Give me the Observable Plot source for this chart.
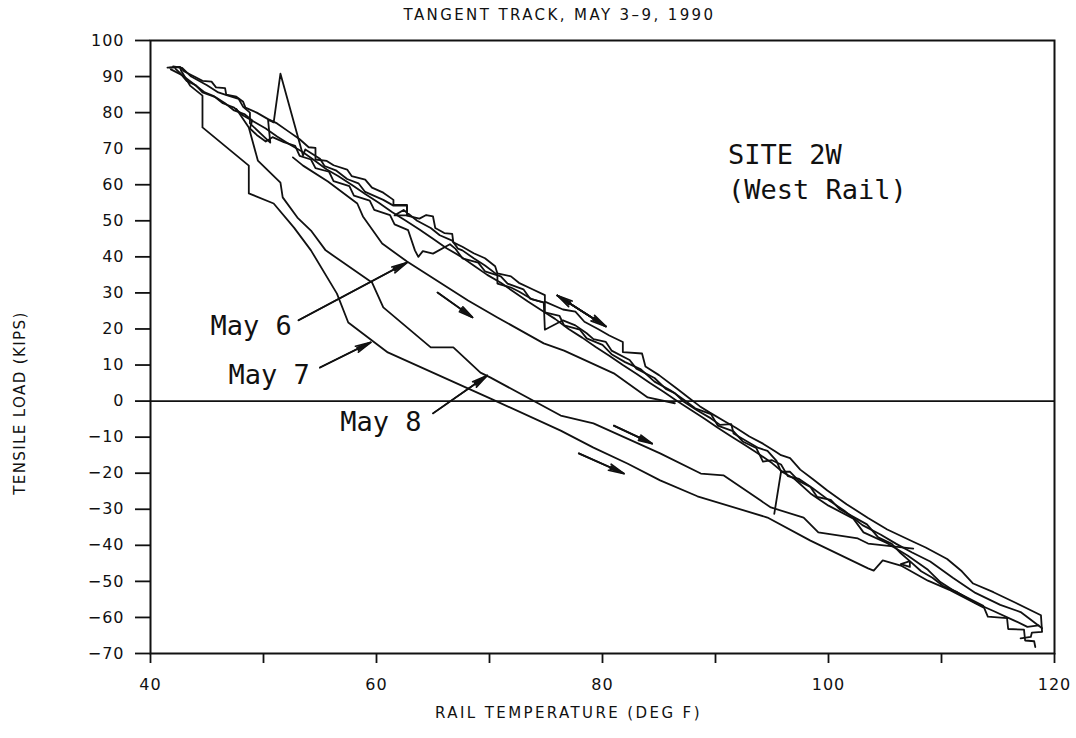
<!DOCTYPE html>
<html>
<head>
<meta charset="utf-8">
<script src="https://cdn.jsdelivr.net/npm/d3@7"></script>
<script src="https://cdn.jsdelivr.net/npm/@observablehq/plot@0.6"></script>
<style>
  html, body { margin: 0; padding: 0; background: #fff; }
  #chart svg { display: block; }
</style>
</head>
<body>
<div id="chart"></div>
<script>
// Rail temperature (deg F) vs tensile load (kips), Site 2W, west rail.
// Each day is one trace of [temperature, load] readings.

const may3 = [[41.5,92.5],[42.6,92.7],[43.0,91.4],[44.0,89.8],[44.6,88.8],[45.4,88.6],[45.8,87.0],[46.6,86.8],[46.7,85.0],[47.6,84.4],[48.2,83.0],[48.4,81.4],[49.4,80.0],[50.4,78.2],[51.2,77.0],[52.2,74.8],[53.2,72.6],[54.0,70.4],[54.6,70.2],[54.6,67.0],[55.6,66.6],[56.2,65.4],[57.4,64.2],[57.8,62.4],[59.0,61.4],[59.6,59.2],[60.6,57.8],[61.5,55.8],[61.5,54.4],[62.7,54.4],[62.7,51.4],[63.8,50.6],[64.4,51.6],[65.0,51.2],[65.2,48.0],[66.0,46.6],[66.7,46.4],[66.8,44.0],[67.6,42.8],[68.6,41.0],[69.6,39.6],[70.5,37.4],[70.7,35.4],[71.9,34.6],[72.6,32.8],[73.8,31.0],[74.9,29.4],[74.9,27.6],[76.5,25.4],[77.6,24.8],[78.4,22.0],[79.6,20.0],[80.6,18.2],[81.8,16.4],[81.8,13.6],[83.5,13.2],[83.8,9.6],[85.0,7.2],[86.6,3.4],[87.6,1.0],[88.6,-1.4],[89.5,-3.2],[90.8,-5.6],[91.8,-7.4],[93.0,-9.8],[94.2,-11.8],[95.2,-13.8],[95.8,-15.0],[96.6,-15.8],[97.5,-19.0],[98.6,-21.6],[99.9,-24.8],[101.6,-28.6],[103.5,-32.4],[105.2,-35.6],[107.5,-39.0],[108.6,-40.6],[110.5,-43.8],[111.8,-47.2],[112.8,-50.6],[114.6,-53.0],[116.6,-56.0],[118.8,-59.4],[118.9,-64.0],[118.0,-64.2],[117.9,-65.4],[117.0,-65.8]];

const may4 = [[41.8,92.0],[42.8,90.4],[43.8,88.0],[44.8,85.6],[45.6,84.6],[46.4,82.6],[47.4,81.4],[48.2,79.2],[49.2,77.4],[50.2,75.6],[51.2,73.4],[52.4,71.0],[53.4,69.2],[54.4,67.0],[55.6,64.2],[56.6,62.4],[57.8,60.0],[59.0,57.4],[60.2,55.0],[61.4,52.4],[62.6,50.0],[63.8,47.6],[65.0,45.0],[66.2,42.4],[67.4,40.2],[68.6,37.6],[69.8,35.0],[71.0,32.8],[72.2,30.2],[73.4,27.6],[74.6,25.2],[75.8,22.8],[77.0,20.0],[78.2,17.6],[79.4,15.0],[80.6,12.6],[81.8,10.0],[83.0,7.6],[84.2,5.0],[85.4,2.6],[86.6,0.0],[87.8,-2.4],[89.0,-4.8],[90.2,-7.4],[91.4,-9.8],[92.6,-12.2],[93.8,-14.6],[95.0,-17.2],[96.0,-19.8],[97.0,-21.6],[98.4,-25.6],[100.0,-29.0],[102.2,-32.6],[103.1,-36.4],[105.2,-39.4],[107.0,-42.8],[108.8,-46.8],[109.9,-50.2],[111.1,-52.6],[113.7,-56.8],[114.1,-59.8],[115.8,-60.2],[115.9,-63.2],[117.3,-63.4],[117.4,-66.4],[118.2,-66.6],[118.3,-68.2]];

const may5 = [[118.9,-63.0],[117.0,-58.5],[115.2,-56.5],[113.0,-53.2],[111.0,-49.0],[109.0,-44.5],[107.4,-42.0],[106.0,-39.6],[104.6,-37.0],[103.0,-34.4],[101.4,-30.4],[100.0,-27.4],[98.6,-24.2],[97.4,-21.6],[96.4,-20.8],[95.8,-17.6],[95.0,-16.4],[94.2,-16.8],[93.6,-13.0],[92.4,-11.2],[91.6,-8.4],[90.2,-6.8],[89.6,-3.6],[88.2,-2.0],[87.2,0.4],[86.0,3.0],[84.6,5.4],[83.4,8.8],[82.0,10.8],[80.8,13.0],[80.0,15.6],[78.6,17.4],[78.0,19.8],[76.6,21.0],[76.2,23.6],[74.9,24.6],[74.9,27.2],[73.6,28.4],[73.0,31.0],[71.6,32.6],[71.0,34.6],[69.6,36.0],[69.0,38.4],[67.6,39.6],[67.0,42.2],[66.5,43.5],[65.0,40.9],[64.1,41.6],[63.7,40.0],[63.4,41.8],[62.8,47.4],[61.6,49.0],[61.2,51.6],[59.8,53.0],[59.4,55.6],[58.0,57.0],[57.6,59.6],[56.2,61.0],[55.8,63.6],[54.6,64.6],[54.2,67.0],[53.2,68.0],[52.8,70.8],[51.8,71.8],[50.8,73.2],[50.2,72.0],[49.4,73.8],[48.8,75.6],[49.0,77.8],[48.3,79.6],[47.4,80.6],[46.6,82.6],[45.8,84.2],[44.6,85.6],[44.0,87.6],[43.2,88.8],[42.6,91.0],[42.2,92.2]];

const may6 = [[52.6,67.6],[53.5,65.3],[55.7,60.9],[58.3,54.8],[58.8,51.2],[60.5,43.7],[62.7,38.7],[68.1,27.9],[70.7,23.2],[74.8,16.0],[76.6,14.0],[81.0,7.7],[84.0,1.0],[86.4,-0.6]];

const may7 = [[41.7,92.5],[42.6,92.6],[42.7,91.7],[43.5,87.5],[44.6,84.7],[44.6,75.9],[48.7,65.3],[48.7,57.6],[50.9,54.8],[52.7,48.1],[54.2,41.8],[56.5,29.8],[57.5,21.8],[61.0,13.5],[70.1,0.7],[76.3,-8.2],[79.2,-12.9],[82.2,-17.3],[85.1,-22.0],[88.4,-26.4],[94.6,-32.3],[98.4,-38.7],[103.5,-46.4],[104.0,-47.0],[104.8,-44.2],[106.4,-45.6],[108.8,-49.8],[110.8,-52.5],[113.7,-57.2]];

const may8 = [[47.6,81.0],[48.7,75.9],[49.5,66.7],[51.5,60.6],[51.7,56.5],[53.0,50.9],[54.2,47.3],[55.5,41.8],[59.6,32.9],[60.6,26.0],[64.8,14.9],[66.8,14.9],[69.2,7.9],[70.1,6.5],[76.3,-4.0],[79.2,-6.2],[82.2,-10.4],[85.1,-14.5],[88.7,-20.1],[90.7,-20.6],[94.0,-27.6],[94.9,-29.5],[97.8,-32.3],[99.1,-36.4],[102.6,-38.1],[103.5,-39.5],[107.5,-40.9]];

const may9 = [[42.0,92.8],[42.8,92.4],[43.6,90.0],[45.0,87.6],[46.0,85.6],[46.8,84.8],[47.8,83.8],[48.2,81.6],[48.8,80.0],[48.8,77.0],[50.6,71.7],[50.4,78.1],[50.9,77.3],[51.5,90.8],[53.5,68.1],[53.7,69.8],[55.0,67.2],[55.4,65.2],[56.4,64.0],[57.4,61.6],[58.4,60.4],[59.0,58.0],[60.6,55.8],[61.5,54.2],[62.7,54.2],[62.7,51.5],[61.6,51.5],[62.4,53.0],[63.6,50.0],[64.8,48.0],[65.6,46.0],[66.7,44.5],[67.2,42.3],[67.6,41.8],[68.6,39.6],[69.6,37.6],[70.7,35.0],[70.7,32.6],[71.9,31.5],[72.6,30.4],[73.8,28.2],[74.8,27.4],[74.9,19.8],[75.4,20.6],[76.5,22.4],[77.6,21.0],[78.6,18.8],[79.2,17.2],[80.3,16.4],[80.8,14.0],[82.4,11.4],[83.0,9.0],[84.6,6.4],[85.6,3.4],[86.4,2.2],[87.2,-0.2],[88.4,-2.6],[89.6,-4.8],[90.4,-6.6],[91.4,-6.4],[91.6,-9.0],[92.8,-11.2],[93.8,-13.0],[94.6,-13.8],[95.4,-16.6],[95.8,-19.6],[95.2,-31.3],[95.8,-19.6],[96.6,-19.6],[97.4,-22.2],[98.4,-23.8],[99.0,-26.6],[100.2,-27.4],[101.0,-30.0],[102.6,-32.8],[103.4,-34.2],[104.4,-37.8],[105.6,-39.6],[106.4,-42.2],[107.2,-44.4],[107.2,-46.0],[106.4,-45.2],[107.2,-44.4],[108.2,-47.2],[109.2,-49.0],[110.2,-51.4],[111.4,-53.0],[113.0,-56.0],[114.6,-58.2],[116.4,-60.8],[117.6,-62.6],[118.6,-62.2]];

const dayNames = ["May 3", "May 4", "May 5", "May 6", "May 7", "May 8", "May 9"];
const dayTraces = [may3, may4, may5, may6, may7, may8, may9];

// Tick values
const xTicks = [40, 50, 60, 70, 80, 90, 100, 110, 120];
const xTickLabels = [40, 60, 80, 100, 120];
const yTicks = [-70, -60, -50, -40, -30, -20, -10, 0, 10, 20, 30, 40, 50, 60, 70, 80, 90, 100];

// Texts
const chartTitle = "TANGENT TRACK, MAY 3\u20139, 1990";
const xTitle = "RAIL TEMPERATURE (DEG F)";
const yTitle = "TENSILE LOAD (KIPS)";

// Annotations: text and the [temperature, load] where each starts
const siteNotes = [
  {text: "SITE 2W", temp: 91.1, load: 68.1},
  {text: "(West Rail)", temp: 91.1, load: 58.4}
];
const dayNotes = [
  {text: "May 6", temp: 45.3, load: 20.7},
  {text: "May 7", temp: 46.9, load: 7.1},
  {text: "May 8", temp: 56.8, load: -5.9}
];
// Leader arrows from each day label to its trace
const leaders = [
  {t1: 53.1, l1: 22.4, t2: 62.7, l2: 38.4},
  {t1: 55.0, l1: 9.3, t2: 59.5, l2: 16.3},
  {t1: 65.0, l1: -3.4, t2: 69.8, l2: 7.1}
];
// Direction-of-travel arrows
const travel = [
  {t1: 65.4, l1: 30.1, t2: 68.5, l2: 23.2},
  {t1: 76.0, l1: 29.3, t2: 80.3, l2: 20.7},
  {t1: 80.3, l1: 20.7, t2: 76.0, l2: 29.3},
  {t1: 81.0, l1: -6.8, t2: 84.4, l2: -11.8},
  {t1: 77.9, l1: -14.5, t2: 81.9, l2: -20.1}
];

const rows = dayTraces.flatMap((pts, i) =>
  pts.map(([temp, load]) => ({day: dayNames[i], temp, load}))
);

const ink = "#111";
const arrowOpts = {x1: "t1", y1: "l1", x2: "t2", y2: "l2", stroke: ink, strokeWidth: 1.7, insetStart: 0, insetEnd: 0};

const chart = Plot.plot({
  width: 1076,
  height: 738,
  marginLeft: 150,
  marginRight: 22,
  marginTop: 40,
  marginBottom: 85,
  style: {fontFamily: "'DejaVu Sans', sans-serif", fontSize: "16px", color: ink, background: "#fff"},
  x: {domain: [40, 120], label: null},
  y: {domain: [-70, 100], label: null},
  marks: [
    Plot.axisY({ticks: yTicks, tickSize: 15, tickPadding: 11, strokeWidth: 1.8, fontSize: 16, label: null}),
    Plot.axisX({ticks: xTicks, tickSize: 10, tickPadding: 15, strokeWidth: 1.8, fontSize: 16, label: null,
      tickFormat: d => xTickLabels.includes(d) ? String(d) : ""}),
    Plot.ruleY([0], {stroke: ink, strokeWidth: 1.6}),
    Plot.line(rows, {x: "temp", y: "load", z: "day", stroke: ink, strokeWidth: 1.8, strokeLinejoin: "round"}),
    Plot.arrow(leaders, {...arrowOpts, headLength: 14, headAngle: 24}),
    Plot.arrow(leaders, {...arrowOpts, headLength: 13, headAngle: 12}),
    Plot.arrow(travel, {...arrowOpts, headLength: 14, headAngle: 24}),
    Plot.arrow(travel, {...arrowOpts, headLength: 13, headAngle: 12}),
    Plot.text(siteNotes, {x: "temp", y: "load", text: "text", textAnchor: "start", lineAnchor: "middle",
      fontFamily: "'DejaVu Sans Mono', monospace", fontSize: 27, fill: ink}),
    Plot.text(dayNotes, {x: "temp", y: "load", text: "text", textAnchor: "start", lineAnchor: "middle",
      fontFamily: "'DejaVu Sans Mono', monospace", fontSize: 27, fill: ink}),
    Plot.text([chartTitle], {text: d => d, frameAnchor: "top", dx: -43, dy: -25, textAnchor: "middle", lineAnchor: "middle", fontSize: 15, fill: ink}),
    Plot.text([xTitle], {text: d => d, frameAnchor: "bottom", dx: -34, dy: 60, textAnchor: "middle", lineAnchor: "middle", fontSize: 15, fill: ink}),
    Plot.text([yTitle], {text: d => d, frameAnchor: "left", dx: -130, dy: 56, rotate: -90, textAnchor: "middle", lineAnchor: "middle", fontSize: 15, fill: ink}),
    Plot.frame({stroke: ink, strokeWidth: 2})
  ]
});

document.getElementById("chart").appendChild(chart);

// Wide, plotter-style lettering for titles and tick labels
const wideTexts = new Set([chartTitle, xTitle]);
d3.select(chart).selectAll("text").each(function() {
  const s = this.textContent;
  if (wideTexts.has(s)) this.setAttribute("letter-spacing", "2.4");
  else if (s === yTitle) this.setAttribute("letter-spacing", "1.4");
});
d3.select(chart).selectAll('g[aria-label$="tick label"] text').attr("letter-spacing", "1");
</script>
</body>
</html>
